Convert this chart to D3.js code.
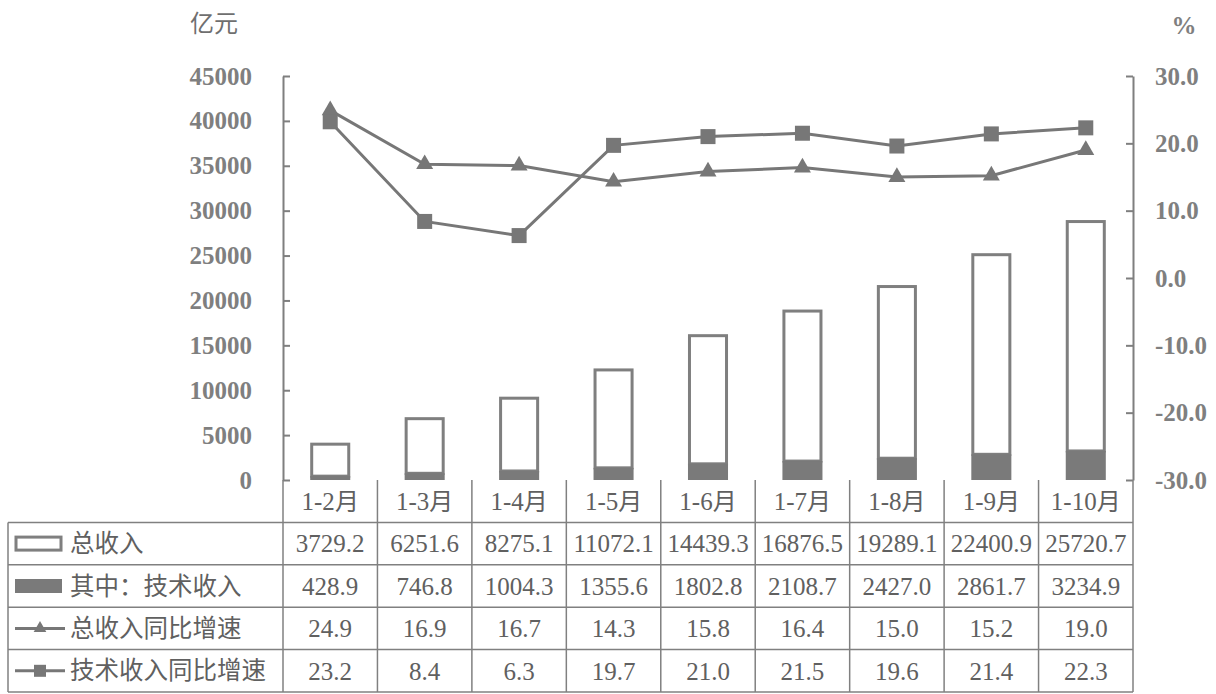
<!DOCTYPE html>
<html><head><meta charset="utf-8">
<script src="https://cdn.jsdelivr.net/npm/d3@7"></script>
<style>
html,body{margin:0;padding:0;background:#fff;}
svg{display:block;}
</style></head>
<body>
<svg id="chart" width="1216" height="694"></svg>
<script>
// ---------- data ----------
const categories = ["1-2月","1-3月","1-4月","1-5月","1-6月","1-7月","1-8月","1-9月","1-10月"];
const totalIncome = [3729.2,6251.6,8275.1,11072.1,14439.3,16876.5,19289.1,22400.9,25720.7];
const techIncome = [428.9,746.8,1004.3,1355.6,1802.8,2108.7,2427.0,2861.7,3234.9];
const totalGrowth = [24.9,16.9,16.7,14.3,15.8,16.4,15.0,15.2,19.0];
const techGrowth = [23.2,8.4,6.3,19.7,21.0,21.5,19.6,21.4,22.3];
const leftTicks = [0,5000,10000,15000,20000,25000,30000,35000,40000,45000];
const rightTicks = [-30,-20,-10,0,10,20,30];
const seriesNames = ["总收入","其中：技术收入","总收入同比增速","技术收入同比增速"];
const leftUnit = "亿元", rightUnit = "%";

// ---------- layout ----------
const svg = d3.select("#chart");
const plotL = 283, plotR = 1133, plotT = 76, plotB = 480;
const tableL = 8, rowH = 42.4;
const gray = "#7f7f7f", textGray = "#606060", lineGray = "#808080";
const serif = "'Liberation Serif','Times New Roman',serif";
const cjk = "'Noto Sans CJK SC','Noto Sans',sans-serif";

const x = d3.scaleBand().domain(categories).range([plotL, plotR]).padding(0);
const yL = d3.scaleLinear().domain([0,45000]).range([plotB, plotT]);
const yR = d3.scaleLinear().domain([-30,30]).range([plotB, plotT]);

// stacked bars: tech at bottom, total stacked on top
const stackData = categories.map((c,i)=>({cat:c, tech:techIncome[i], total:totalIncome[i]}));
const stacked = d3.stack().keys(["tech","total"])(stackData);
const barW = x.bandwidth()*0.424;

const gBars = svg.append("g");
gBars.selectAll("rect.total").data(stacked[1]).join("rect")
  .attr("class","total")
  .attr("x", d=>x(d.data.cat)+x.bandwidth()/2-barW/2+1.5)
  .attr("width", barW-3)
  .attr("y", d=>yL(d[1])+1.5)
  .attr("height", d=>Math.max(0,yL(d[0])-yL(d[1])-1.5))
  .attr("fill","#fff").attr("stroke",gray).attr("stroke-width",3);
gBars.selectAll("rect.tech").data(stacked[0]).join("rect")
  .attr("class","tech")
  .attr("x", d=>x(d.data.cat)+x.bandwidth()/2-barW/2)
  .attr("width", barW)
  .attr("y", d=>yL(d[1]))
  .attr("height", d=>yL(d[0])-yL(d[1]))
  .attr("fill","#7a7a7a");

// axes
const axL = d3.axisLeft(yL).tickValues(leftTicks).tickFormat(d3.format("d")).tickSizeInner(-7).tickSizeOuter(0).tickPadding(31);
const gL = svg.append("g").attr("transform",`translate(${plotL},0)`).call(axL);
const axR = d3.axisRight(yR).tickValues(rightTicks).tickFormat(d3.format(".1f")).tickSizeInner(-7).tickSizeOuter(0).tickPadding(22);
const gR = svg.append("g").attr("transform",`translate(${plotR},0)`).call(axR);
[gL,gR].forEach(g=>{
  g.select(".domain").attr("stroke",gray).attr("stroke-width",2);
  g.selectAll(".tick line").attr("stroke",gray).attr("stroke-width",2);
  g.selectAll(".tick text").attr("fill",gray).attr("font-family",serif)
    .attr("font-weight","bold").attr("font-size",25);
});
gR.selectAll(".tick text").text(d=>d3.format(".1f")(d).replace("−","-"));

// units
svg.append("text").attr("x",214).attr("y",24).attr("text-anchor","middle").attr("dy","0.35em")
  .attr("font-family",cjk).attr("font-size",24).attr("fill","#6f6f6f").text(leftUnit);
svg.append("text").attr("x",1184).attr("y",25).attr("text-anchor","middle").attr("dy","0.35em")
  .attr("font-family",serif).attr("font-weight","bold").attr("font-size",25).attr("fill",gray).text(rightUnit);

// lines
const cx = c => x(c)+x.bandwidth()/2;
const lineGen = d3.line().x((d,i)=>cx(categories[i])).y(d=>yR(d));
svg.append("path").datum(totalGrowth).attr("d",lineGen).attr("fill","none").attr("stroke","#777").attr("stroke-width",3);
svg.append("path").datum(techGrowth).attr("d",lineGen).attr("fill","none").attr("stroke","#777").attr("stroke-width",3);
const tri = d3.symbol().type(d3.symbolTriangle).size(125);
svg.append("g").selectAll("path").data(totalGrowth).join("path")
  .attr("transform",(d,i)=>`translate(${cx(categories[i])},${yR(d)})`)
  .attr("d",tri).attr("fill","#777");
svg.append("g").selectAll("rect").data(techGrowth).join("rect")
  .attr("x",(d,i)=>cx(categories[i])-7.5).attr("y",d=>yR(d)-7.5)
  .attr("width",15).attr("height",15).attr("fill","#777");

// ---------- data table ----------
const gT = svg.append("g");
const rowTop = i => plotB + rowH*i;
const nRows = 5;
const tableB = rowTop(nRows);
for(let r=1;r<=nRows;r++){
  gT.append("line").attr("x1",tableL).attr("x2",plotR).attr("y1",rowTop(r)).attr("y2",rowTop(r))
    .attr("stroke",lineGray).attr("stroke-width",1.5);
}
gT.append("line").attr("x1",tableL).attr("x2",tableL).attr("y1",rowTop(1)).attr("y2",tableB).attr("stroke",lineGray).attr("stroke-width",1.5);
categories.forEach(c=>{
  gT.append("line").attr("x1",x(c)).attr("x2",x(c)).attr("y1",plotB).attr("y2",tableB).attr("stroke",lineGray).attr("stroke-width",1.5);
});
gT.append("line").attr("x1",plotR).attr("x2",plotR).attr("y1",plotB).attr("y2",tableB).attr("stroke",lineGray).attr("stroke-width",1.5);

const rowMid = i => rowTop(i)+rowH/2;
gT.selectAll("text.cat").data(categories).join("text").attr("class","cat")
  .attr("x",d=>cx(d)).attr("y",rowMid(0)).attr("dy","0.35em").attr("text-anchor","middle")
  .attr("font-family",serif).attr("font-size",25).attr("fill",textGray)
  .each(function(d){
    const m = d.match(/^(.*?)(月)$/);
    d3.select(this).append("tspan").text(m[1]);
    d3.select(this).append("tspan").attr("font-family",cjk).attr("font-size",24).text(m[2]);
  });
const rowsText = [
  totalIncome.map(v=>d3.format(".1f")(v)),
  techIncome.map(v=>d3.format(".1f")(v)),
  totalGrowth.map(v=>d3.format(".1f")(v)),
  techGrowth.map(v=>d3.format(".1f")(v))
];
rowsText.forEach((vals,r)=>{
  gT.append("g").selectAll("text").data(vals).join("text")
    .attr("x",(d,i)=>cx(categories[i])).attr("y",rowMid(r+1)).attr("dy","0.35em")
    .attr("text-anchor","middle").attr("font-family",serif).attr("font-size",25)
    .attr("fill",textGray).text(d=>d);
});
seriesNames.forEach((n,r)=>{
  gT.append("text").attr("x",70).attr("y",rowMid(r+1)).attr("dy","0.35em")
    .attr("font-family",cjk).attr("font-size",24.5).attr("fill",textGray).text(n);
});
const ly = r => rowMid(r+1);
gT.append("rect").attr("x",16).attr("y",ly(0)-6.5).attr("width",45).attr("height",13)
  .attr("fill","#fff").attr("stroke",gray).attr("stroke-width",3);
gT.append("rect").attr("x",15).attr("y",ly(1)-7).attr("width",47).attr("height",14).attr("fill","#7a7a7a");
gT.append("line").attr("x1",15).attr("x2",65).attr("y1",ly(2)).attr("y2",ly(2)).attr("stroke","#777").attr("stroke-width",3);
gT.append("path").attr("transform",`translate(40,${ly(2)})`).attr("d",d3.symbol().type(d3.symbolTriangle).size(70)).attr("fill","#777");
gT.append("line").attr("x1",15).attr("x2",65).attr("y1",ly(3)).attr("y2",ly(3)).attr("stroke","#777").attr("stroke-width",3);
gT.append("rect").attr("x",34).attr("y",ly(3)-6).attr("width",12).attr("height",12).attr("fill","#777");
</script>
</body></html>
